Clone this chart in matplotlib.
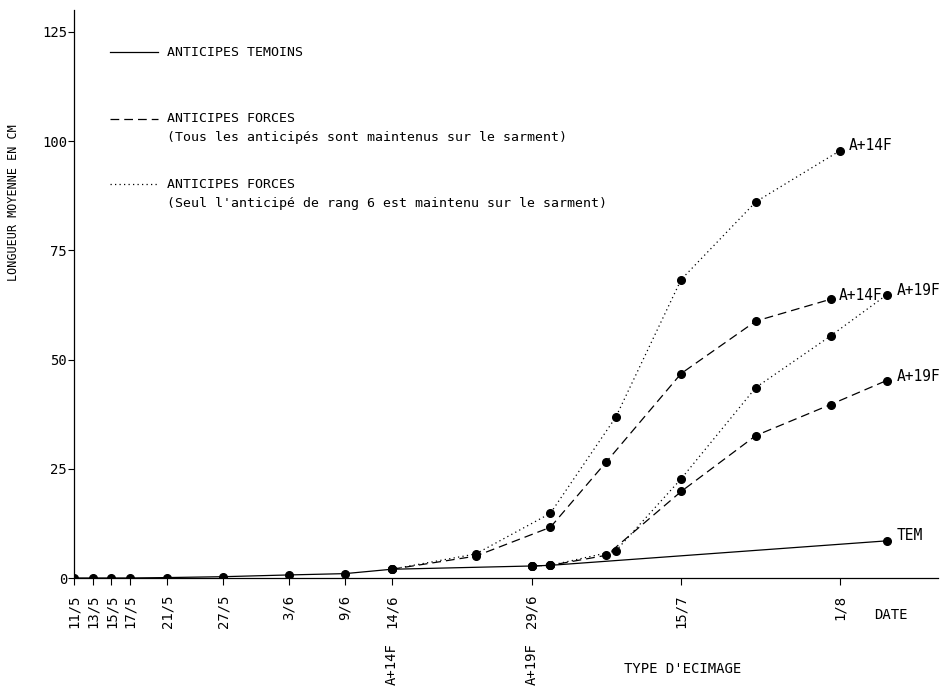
import matplotlib
matplotlib.use("Agg")
import matplotlib.pyplot as plt
from matplotlib.transforms import blended_transform_factory
from matplotlib.lines import Line2D

# Days counted from 11 May
tick_days = [0, 2, 4, 6, 10, 16, 23, 29, 34, 49, 65, 82]
tick_labels = ["11/5", "13/5", "15/5", "17/5", "21/5", "27/5", "3/6", "9/6",
               "14/6", "29/6", "15/7", "1/8"]

# Control shoots (solid)
tem_days = [0, 2, 4, 6, 10, 16, 23, 29, 34, 49, 51, 87]
tem_vals = [0, 0, 0, 0, 0.1, 0.3, 0.7, 1.0, 2.0, 2.75, 2.9, 8.5]

# Forced shoots, all kept on the cane (dashed)
f14_all_days = [34, 43, 51, 57, 65, 73, 81]
f14_all_vals = [2.0, 5.0, 11.6, 26.6, 46.8, 58.8, 63.8]
f19_all_days = [49, 51, 57, 65, 73, 81, 87]
f19_all_vals = [2.75, 2.9, 5.2, 19.8, 32.6, 39.7, 45.2]

# Forced shoots, only rank 6 kept (dotted)
f14_r6_days = [34, 43, 51, 58, 65, 73, 82]
f14_r6_vals = [2.0, 5.5, 14.8, 36.8, 68.3, 86.1, 97.8]
f19_r6_days = [49, 51, 58, 65, 73, 81, 87]
f19_r6_vals = [2.75, 2.9, 6.2, 22.7, 43.6, 55.4, 64.8]

topping_days = [34, 49]
topping_labels = ["A+14F", "A+19F"]

W, H = 941, 688
fig = plt.figure(figsize=(W / 100, H / 100), dpi=100)
ax = fig.add_axes([74 / W, 110 / H, 864 / W, 568 / H])

FONT = "DejaVu Sans Mono"
lw = 0.9
ms = 5.5
dashed = (0, (7, 4))
dotted = (0, (1, 2.6))

ax.plot(tem_days, tem_vals, color="black", lw=lw, ls="-", marker="o", ms=ms, zorder=3)
ax.plot(f14_all_days, f14_all_vals, color="black", lw=lw, ls=dashed, marker="o", ms=ms, zorder=3)
ax.plot(f19_all_days, f19_all_vals, color="black", lw=lw, ls=dashed, marker="o", ms=ms, zorder=3)
ax.plot(f14_r6_days, f14_r6_vals, color="black", lw=lw, ls=dotted, marker="o", ms=ms, zorder=3)
ax.plot(f19_r6_days, f19_r6_vals, color="black", lw=lw, ls=dotted, marker="o", ms=ms, zorder=3)

# End-of-curve labels
end_kw = dict(fontsize=10.5, family=FONT, ha="left", va="center")
ax.annotate("A+14F", (f14_r6_days[-1], f14_r6_vals[-1]), xytext=(6, 4), textcoords="offset points", **end_kw)
ax.annotate("A+14F", (f14_all_days[-1], f14_all_vals[-1]), xytext=(6, 3), textcoords="offset points", **end_kw)
ax.annotate("A+19F", (f19_r6_days[-1], f19_r6_vals[-1]), xytext=(7, 3), textcoords="offset points", **end_kw)
ax.annotate("A+19F", (f19_all_days[-1], f19_all_vals[-1]), xytext=(7, 3), textcoords="offset points", **end_kw)
ax.annotate("TEM", (tem_days[-1], tem_vals[-1]), xytext=(7, 4), textcoords="offset points", **end_kw)

ax.set_xlim(0, 92.5)
ax.set_ylim(0, 130)
for s in ("top", "right"):
    ax.spines[s].set_visible(False)
for s in ("left", "bottom"):
    ax.spines[s].set_linewidth(0.9)

ax.set_yticks([0, 25, 50, 75, 100, 125])
ax.set_xticks(tick_days)
ax.set_xticklabels(tick_labels, rotation=90, family=FONT, fontsize=10)
for t in ax.get_yticklabels():
    t.set_family(FONT)
    t.set_fontsize(10)
ax.tick_params(axis="y", direction="out", length=4.5, width=0.8, pad=0.5)
ax.tick_params(axis="x", direction="out", length=5, width=0.8, pad=7)

ax.set_ylabel("LONGUEUR MOYENNE EN CM", family=FONT, fontsize=8.5)
ax.yaxis.set_label_coords(-0.062, 0.66)

trans = blended_transform_factory(ax.transData, ax.transAxes)
for d, lab in zip(topping_days, topping_labels):
    ax.text(d, -0.114, lab, transform=trans, rotation=90, ha="center", va="top",
            family=FONT, fontsize=10)

fig.text(891 / W, 1 - 615 / H, "DATE", family=FONT, fontsize=10, ha="center", va="center")
fig.text(683 / W, 1 - 669 / H, "TYPE D'ECIMAGE", family=FONT, fontsize=10, ha="center", va="center")

# Legend drawn as line samples with text beside them
def fx(px):
    return px / W

def fy(py):
    return 1 - py / H

legend_items = [
    ("-", 52, ["ANTICIPES TEMOINS"]),
    (dashed, 119, ["ANTICIPES FORCES", "(Tous les anticipés sont maintenus sur le sarment)"]),
    (dotted, 184, ["ANTICIPES FORCES", "(Seul l'anticipé de rang 6 est maintenu sur le sarment)"]),
]
for style, py, lines in legend_items:
    fig.add_artist(Line2D([fx(110), fx(158)], [fy(py), fy(py)], color="black", lw=lw, ls=style,
                          transform=fig.transFigure))
    for i, txt in enumerate(lines):
        fig.text(fx(167), fy(py + 19 * i), txt, family=FONT, fontsize=9.5, ha="left", va="center")

fig.savefig("out.png", dpi=100)
